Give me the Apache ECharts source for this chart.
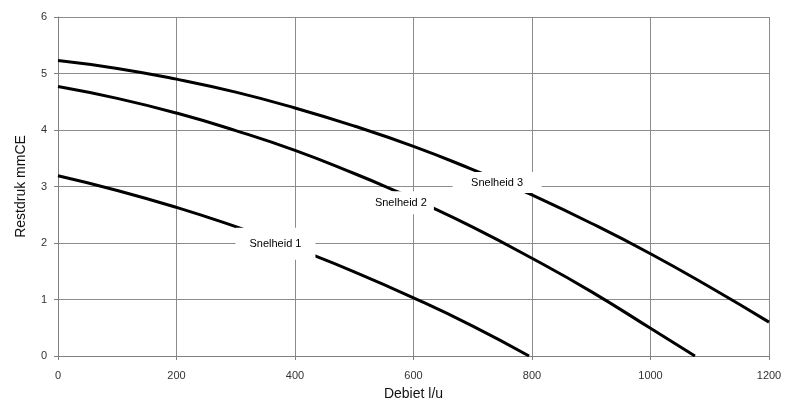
<!DOCTYPE html>
<html><head><meta charset="utf-8">
<script src="https://cdn.jsdelivr.net/npm/echarts@6/dist/echarts.min.js"></script>
<style>html,body{margin:0;padding:0;background:#fff}#c{width:785px;height:410px}</style>
</head><body><div id="c"></div>
<script>
const xTicks = [0, 200, 400, 600, 800, 1000, 1200];
const yTicks = [0, 1, 2, 3, 4, 5, 6];
const seriesNames = ['Snelheid 1', 'Snelheid 2', 'Snelheid 3'];
const flow1 = [0, 100, 200, 300, 367, 400, 500, 600, 700, 795];
const pres1 = [3.19, 2.93, 2.63, 2.29, 2.04, 1.91, 1.49, 1.03, 0.53, 0];
const flow2 = [0, 100, 200, 300, 400, 500, 577, 600, 700, 800, 900, 1000, 1075];
const pres2 = [4.77, 4.56, 4.30, 3.99, 3.64, 3.23, 2.89, 2.78, 2.28, 1.73, 1.14, 0.49, 0];
const flow3 = [0, 100, 200, 300, 400, 500, 600, 700, 736, 800, 900, 1000, 1100, 1200];
const pres3 = [5.23, 5.09, 4.90, 4.67, 4.39, 4.07, 3.71, 3.30, 3.14, 2.85, 2.35, 1.81, 1.22, 0.60];
const labelAt = [367, 577, 736];

const font = 'Liberation Sans, Arial, sans-serif';
function pairs(flow, pres) { return flow.map((f, i) => [f, pres[i]]); }
function labelMark(flow, pres, name, lx, size, off) {
  const i = flow.indexOf(lx);
  return {
    symbol: 'rect', silent: true, animation: false,
    data: [{
      coord: [flow[i], pres[i]], symbol: 'rect', symbolSize: size, symbolOffset: off,
      itemStyle: { color: '#fff' },
      label: { show: true, position: 'inside', formatter: name, color: '#000', fontSize: 11, fontFamily: font }
    }]
  };
}
const lineStyle = { color: '#000', width: 3 };
const common = {
  type: 'line', smooth: true, symbol: 'none', showSymbol: false, lineStyle,
  emphasis: { disabled: true }
};
const chart = echarts.init(document.getElementById('c'), null, { renderer: 'canvas' });
chart.setOption({
  animation: false,
  grid: { left: 58, right: 16, top: 17, bottom: 54 },
  xAxis: {
    type: 'value', min: xTicks[0], max: xTicks[xTicks.length - 1], interval: 200,
    name: 'Debiet l/u', nameLocation: 'middle', nameGap: 31,
    nameTextStyle: { fontSize: 14, color: '#111', fontFamily: font },
    axisLine: { lineStyle: { color: '#808080' } },
    axisTick: { show: true, length: 4, lineStyle: { color: '#808080' } },
    axisLabel: { fontSize: 11, color: '#333', margin: 14, fontFamily: font, formatter: v => String(v) },
    splitLine: { show: true, lineStyle: { color: '#8c8c8c', width: 1 } }
  },
  yAxis: {
    type: 'value', min: yTicks[0], max: yTicks[yTicks.length - 1], interval: 1,
    name: 'Restdruk mmCE', nameLocation: 'middle', nameGap: 30,
    nameTextStyle: { fontSize: 14, color: '#111', fontFamily: font },
    axisLine: { show: true, lineStyle: { color: '#808080' } },
    axisTick: { show: true, length: 4, lineStyle: { color: '#808080' } },
    axisLabel: { fontSize: 11, color: '#333', margin: 11, fontFamily: font, formatter: v => String(v) },
    splitLine: { show: true, lineStyle: { color: '#8c8c8c', width: 1 } }
  },
  series: [
    Object.assign({}, common, { name: seriesNames[0], data: pairs(flow1, pres1),
      markPoint: labelMark(flow1, pres1, seriesNames[0], labelAt[0], [80, 32], [0, 3]) }),
    Object.assign({}, common, { name: seriesNames[1], data: pairs(flow2, pres2),
      markPoint: labelMark(flow2, pres2, seriesNames[1], labelAt[1], [66, 23], [1, 10]) }),
    Object.assign({}, common, { name: seriesNames[2], data: pairs(flow3, pres3),
      markPoint: labelMark(flow3, pres3, seriesNames[2], labelAt[2], [89, 21], [3, 4]) })
  ]
});
</script></body></html>
